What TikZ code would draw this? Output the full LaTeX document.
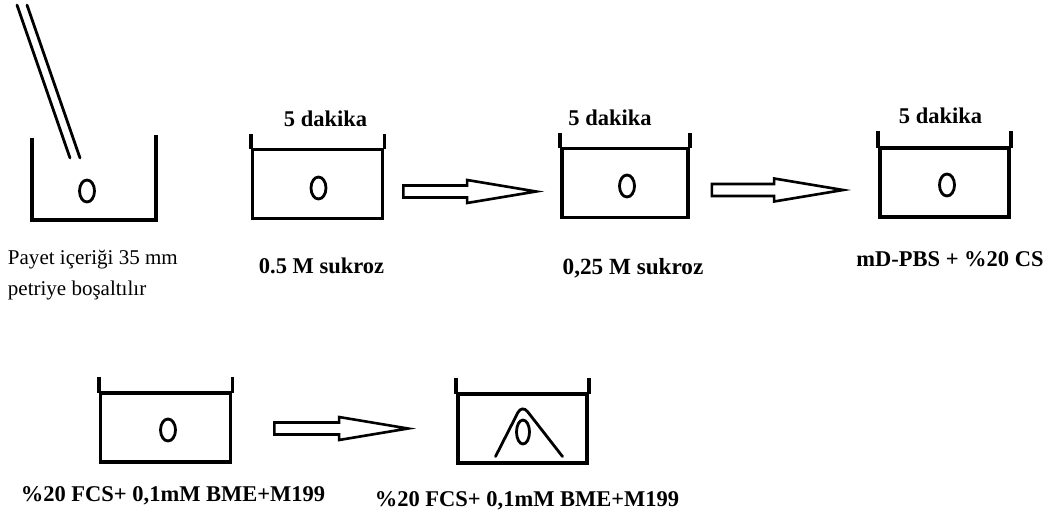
\documentclass[tikz,border=0pt]{standalone}
\usepackage{fontspec}
\setmainfont{Liberation Serif}
\usetikzlibrary{positioning,calc}

\tikzset{
  dish/.style={draw,line width=3.8pt,minimum width=130pt,minimum height=69pt,inner sep=0pt},
  wall/.style={line width=3.8pt,line cap=rect},
  oval/.style={line width=2.8pt},
  pipette/.style={line width=2.8pt},
  arrowline/.style={line width=2.6pt,line join=miter},
  lbl/.style={font=\fontsize{22.5}{27}\selectfont\bfseries,inner sep=0pt,text height=16pt,text depth=5pt},
  note/.style={font=\fontsize{21}{31}\selectfont,inner sep=0pt,align=left}
}

\newcommand{\hollowarrow}[2]{%
  \draw[arrowline] ($(#1)+(0,-6)$) -- ($(#2)+(-69,-6)$) -- ($(#2)+(-69,-11.5)$) -- (#2)
    -- ($(#2)+(-69,11.5)$) -- ($(#2)+(-69,6)$) -- ($(#1)+(0,6)$) -- cycle;}

\begin{document}
\begin{tikzpicture}[x=1pt,y=-1pt,line cap=round]
\path[use as bounding box] (0,0) rectangle (1056,513);
% first petri dish with pipette
\node[minimum width=124pt,minimum height=80pt,inner sep=0pt] (d1) at (94,180) {};
\draw[wall] (d1.north west) -- (d1.south west) -- (d1.south east) -- ($(d1.north east)+(0,-3)$);
\draw[oval] ($(d1)+(-7,11)$) ellipse [x radius=7.5,y radius=11];
\draw[pipette] (17,5) -- (70,158);
\draw[pipette] (27,5) -- (80,158);
\node[note,anchor=north west] (n1) at ($(d1.south west)+(-24,30)$) {Payet içeriği 35 mm\\petriye boşaltılır};
% upper row
\node[dish] (d2) at (317.5,184) {};
\draw[wall] (d2.north west) -- ++(0,-12);
\draw[wall] (d2.north east) -- ++(0,-12);
\draw[oval] ($(d2)+(1,4)$) ellipse [x radius=7.5,y radius=11];
\node[lbl,above=16pt of d2,xshift=8pt] (t2) {5 dakika};
\node[lbl,below=36.5pt of d2,xshift=4pt] (s2) {0.5 M sukroz};
\node[dish,minimum width=126pt] (d3) at (625,183) {};
\draw[wall] (d3.north west) -- ++(0,-12);
\draw[wall] (d3.north east) -- ++(0,-12);
\draw[oval] ($(d3)+(2,3)$) ellipse [x radius=7.5,y radius=11];
\node[lbl,above=16pt of d3,xshift=-15pt] (t3) {5 dakika};
\node[lbl,font=\fontsize{23.2}{28}\selectfont\bfseries,below=38.5pt of d3,xshift=8pt] (s3) {0,25 M sukroz};
\node[dish,minimum width=129pt] (d4) at (944.5,182.5) {};
\draw[wall] (d4.north west) -- ++(0,-13);
\draw[wall] (d4.north east) -- ++(0,-13);
\draw[oval] ($(d4)+(2.5,2.5)$) ellipse [x radius=7.5,y radius=11];
\node[lbl,above=17pt of d4,xshift=-4pt] (t4) {5 dakika};
\node[lbl,below=31.5pt of d4,xshift=5.5pt] (s4) {mD-PBS + \%20 CS};
% lower row
\node[dish] (d5) at (165.5,427.5) {};
\draw[wall] (d5.north west) -- ++(0,-12);
\draw[wall] (d5.north east) -- ++(0,-12);
\draw[oval] ($(d5)+(2.5,2.5)$) ellipse [x radius=7.5,y radius=11];
\node[lbl,below=21.5pt of d5,xshift=7.5pt] (s5) {\%20 FCS+ 0,1mM BME+M199};
\node[dish,minimum width=129pt] (d6) at (522.5,428.5) {};
\draw[wall] (d6.north west) -- ++(0,-12);
\draw[wall] (d6.north east) -- ++(0,-12);
\draw[oval] ($(d6)+(0.5,3.5)$) ellipse [x radius=6.5,y radius=12];
\draw[oval,rounded corners=9pt] ($(d6)+(-27,28)$) -- ($(d6)+(-0.5,-24)$) -- ($(d6)+(40,28)$);
\node[lbl,below=25.5pt of d6,xshift=4.5pt] (s6) {\%20 FCS+ 0,1mM BME+M199};
% arrows
\coordinate (a1s) at ($(d2.east)+(19,7.5)$);
\coordinate (a1e) at ($(d3.west)+(-24,8.5)$);
\coordinate (a2s) at ($(d3.east)+(22,7)$);
\coordinate (a2e) at ($(d4.west)+(-35,7.5)$);
\coordinate (a3s) at ($(d5.east)+(42,1)$);
\coordinate (a3e) at ($(d6.west)+(-48,0)$);
\hollowarrow{a1s}{a1e}
\hollowarrow{a2s}{a2e}
\hollowarrow{a3s}{a3e}
\end{tikzpicture}
\end{document}
